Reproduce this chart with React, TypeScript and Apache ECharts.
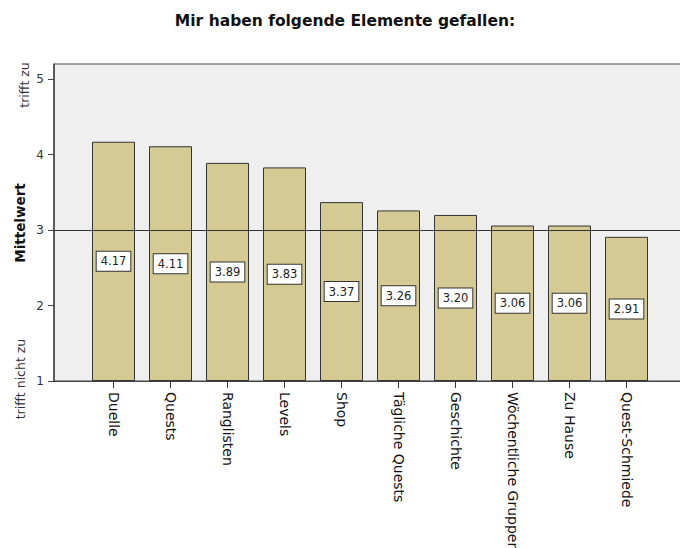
import React, { useEffect, useRef } from "react";
import * as echarts from "echarts";

const TITLE = "Mir haben folgende Elemente gefallen:";
const Y_NAME = "Mittelwert";
const Y_TOP_LABEL = "trifft zu";
const Y_BOTTOM_LABEL = "trifft nicht zu";
const categories = [
  "Duelle",
  "Quests",
  "Ranglisten",
  "Levels",
  "Shop",
  "Tägliche Quests",
  "Geschichte",
  "Wöchentliche Gruppen",
  "Zu Hause",
  "Quest-Schmiede",
];
const means = [4.17, 4.11, 3.89, 3.83, 3.37, 3.26, 3.2, 3.06, 3.06, 2.91];
const Y_MIN = 1;
const Y_MAX = 5.2;
const Y_INTERVAL = 1;
const REF_LINE = 3;

const FONT = "DejaVu Sans";

export default function App() {
  const ref = useRef<HTMLDivElement>(null);
  useEffect(() => {
    if (!ref.current) return;
    const chart = echarts.init(ref.current, undefined, { renderer: "svg" });
    chart.setOption({
      animation: false,
      textStyle: { fontFamily: FONT },
      grid: [
        {
          left: 85,
          right: 25,
          top: 64,
          bottom: 167,
          show: false,
          containLabel: false,
          outerBoundsMode: "none",
        },
        {
          left: 54,
          right: -6,
          top: 64,
          bottom: 167,
          show: true,
          backgroundColor: "#efefef",
          borderColor: "#444",
          borderWidth: 1,
          containLabel: false,
          outerBoundsMode: "none",
          z: 0,
        },
      ],
      xAxis: [
        {
          type: "category",
          gridIndex: 0,
          data: categories,
          axisLine: { show: true, lineStyle: { color: "#444", width: 1 } },
          axisTick: { show: true, alignWithLabel: true, length: 7, lineStyle: { color: "#333", width: 1 } },
          axisLabel: {
            rotate: -90,
            margin: 11,
            fontSize: 14,
            color: "#111",
            fontFamily: FONT,
            interval: 0,
          },
          z: 5,
        },
        {
          type: "value",
          gridIndex: 1,
          min: 0,
          max: 1,
          axisLine: { show: true, lineStyle: { color: "#444", width: 1 } },
          axisTick: { show: false },
          axisLabel: { show: false },
          splitLine: { show: false },
        },
      ],
      yAxis: [
        {
          type: "value",
          gridIndex: 0,
          min: Y_MIN,
          max: Y_MAX,
          interval: Y_INTERVAL,
          startValue: Y_MIN,
          show: false,
          splitLine: { show: false },
        },
        {
          type: "value",
          gridIndex: 1,
          min: Y_MIN,
          max: Y_MAX,
          interval: Y_INTERVAL,
          axisLine: { show: true, lineStyle: { color: "#444", width: 1.5 } },
          axisTick: { show: true, length: 6, lineStyle: { color: "#444" } },
          axisLabel: {
            margin: 10,
            fontSize: 12,
            color: "#333",
            fontFamily: FONT,
            showMaxLabel: false,
            formatter: (v: number) => (Number.isInteger(v) ? String(v) : ""),
          },
          splitLine: { show: false },
        },
      ],
      series: [
        {
          type: "bar",
          xAxisIndex: 0,
          yAxisIndex: 0,
          data: means,
          barWidth: 43,
          z: 3,
          itemStyle: { color: "#d5ca94", borderColor: "#333", borderWidth: 1 },
          label: {
            show: true,
            position: "inside",
            formatter: (p: any) => Number(p.value).toFixed(2),
            fontSize: 11.5,
            color: "#222",
            fontFamily: FONT,
            backgroundColor: "#ffffff",
            borderColor: "#333",
            borderWidth: 1,
            padding: [4, 4, 3, 4],
          },
        },
        {
          type: "line",
          xAxisIndex: 1,
          yAxisIndex: 1,
          data: [],
          z: 10,
          markLine: {
            silent: true,
            symbol: "none",
            label: { show: false },
            lineStyle: { color: "#333", width: 1, type: "solid" },
            data: [{ yAxis: REF_LINE }],
          },
        },
      ],
      graphic: [
        {
          type: "text",
          x: 345,
          y: 21,
          style: {
            text: TITLE,
            fontFamily: FONT,
            fontSize: 15.5,
            fontWeight: "bold",
            fill: "#111",
            textAlign: "center",
            textVerticalAlign: "middle",
          },
        },
        {
          type: "text",
          x: 20,
          y: 223,
          rotation: Math.PI / 2,
          style: {
            text: Y_NAME,
            fontFamily: FONT,
            fontSize: 13.5,
            fontWeight: "bold",
            fill: "#111",
            textAlign: "center",
            textVerticalAlign: "middle",
          },
        },
        {
          type: "text",
          x: 24,
          y: 85,
          rotation: Math.PI / 2,
          style: {
            text: Y_TOP_LABEL,
            fontFamily: FONT,
            fontSize: 12.5,
            fill: "#333",
            textAlign: "center",
            textVerticalAlign: "middle",
          },
        },
        {
          type: "text",
          x: 20,
          y: 379,
          rotation: Math.PI / 2,
          style: {
            text: Y_BOTTOM_LABEL,
            fontFamily: FONT,
            fontSize: 12.5,
            fill: "#333",
            textAlign: "center",
            textVerticalAlign: "middle",
          },
        },
      ],
    });
    return () => chart.dispose();
  }, []);
  return (
    <div
      ref={ref}
      style={{ position: "fixed", left: 0, top: 0, width: 680, height: 548, background: "#fff" }}
    />
  );
}
